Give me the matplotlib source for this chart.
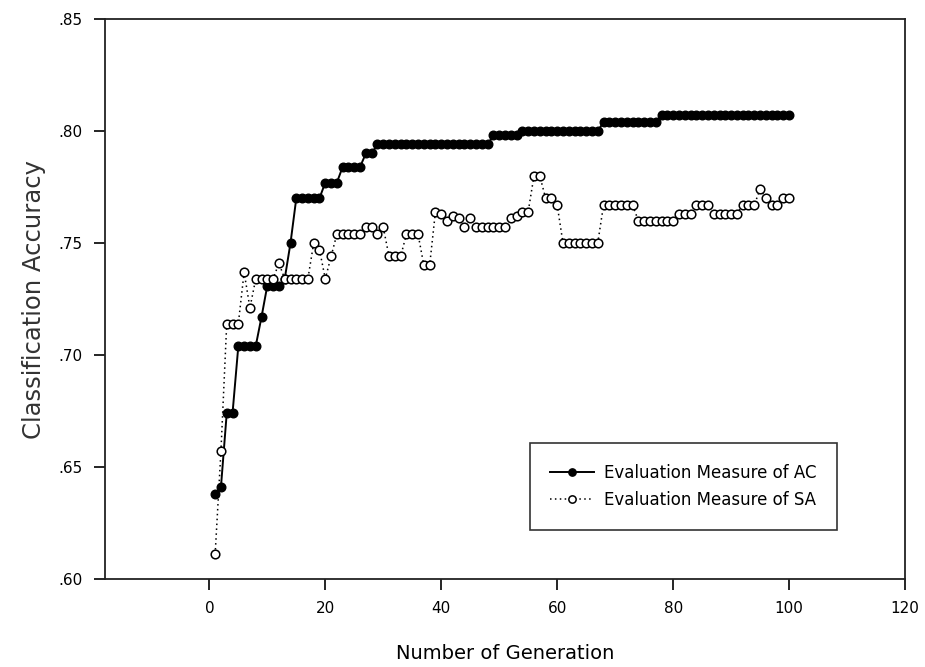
import matplotlib
matplotlib.use('Agg')
import matplotlib.pyplot as plt
from matplotlib.ticker import FuncFormatter
import numpy as np

plt.rcParams.update({
    'font.family': ['DejaVu Sans'],
    'font.size': 11,
})

generations = list(range(1, 101))

# Evaluation Measure of AC (filled markers)
ac_vals = ([.638, .641, .674, .674, .704, .704, .704, .704, .717, .731,
            .731, .731, .734, .750, .770, .770, .770, .770, .770, .777,
            .777, .777, .784, .784, .784, .784, .790, .790]
           + [.794] * 20 + [.798] * 5 + [.800] * 14 + [.804] * 10 + [.807] * 23)

# Evaluation Measure of SA (open markers)
sa_vals = ([.611, .657, .714, .714, .714, .737, .721, .734, .734, .734,
            .734, .741, .734, .734, .734, .734, .734, .750, .747, .734,
            .744, .754, .754, .754, .754, .754, .757, .757, .754, .757,
            .744, .744, .744, .754, .754, .754, .740, .740, .764, .763,
            .760, .762, .761, .757, .761, .757, .757, .757, .757, .757,
            .757, .761, .762, .764, .764, .780, .780, .770, .770, .767]
           + [.750] * 7 + [.767] * 6 + [.760] * 7 + [.763] * 3 + [.767] * 3
           + [.763] * 5 + [.767] * 3 + [.774, .770, .767, .767, .770, .770])

fig = plt.figure(figsize=(9.25, 6.67), dpi=100)
ax = fig.add_axes([0.1135, 0.1319, 0.8649, 0.8396])

ax.plot(generations, ac_vals, color='black', linestyle='-', linewidth=1.4,
        marker='o', markersize=6.2, markerfacecolor='black',
        markeredgecolor='black', label='Evaluation Measure of AC')
ax.plot(generations, sa_vals, color='black', linestyle=(0, (1, 2.2)), linewidth=1.1,
        marker='o', markersize=6.2, markerfacecolor='white',
        markeredgecolor='black', markeredgewidth=1.1, label='Evaluation Measure of SA')

ax.set_xlim(-18, 120)
ax.set_ylim(0.60, 0.85)
ax.set_xticks([0, 20, 40, 60, 80, 100, 120])
ax.set_yticks([.60, .65, .70, .75, .80, .85])
ax.yaxis.set_major_formatter(FuncFormatter(lambda v, p: f'{v:.2f}'.lstrip('0')))

for s in ax.spines.values():
    s.set_linewidth(1.3)
    s.set_color('#222222')
ax.tick_params(direction='out', length=8, width=1.2, labelsize=11, pad=8,
               top=False, right=False)

ax.set_xlabel('Number of Generation', fontsize=14, labelpad=20)
ax.set_ylabel('Classification Accuracy', fontsize=17.5, labelpad=9, color='#333333')

leg = ax.legend(loc='lower right', bbox_to_anchor=(0.915, 0.0875), fontsize=12,
                frameon=True, fancybox=False, edgecolor='black',
                handlelength=2.6, handletextpad=0.6, borderpad=1.25,
                borderaxespad=0.0, labelspacing=0.55, markerscale=0.85)
leg.get_frame().set_linewidth(1.2)

plt.savefig('out.png', dpi=100)
plt.close(fig)
